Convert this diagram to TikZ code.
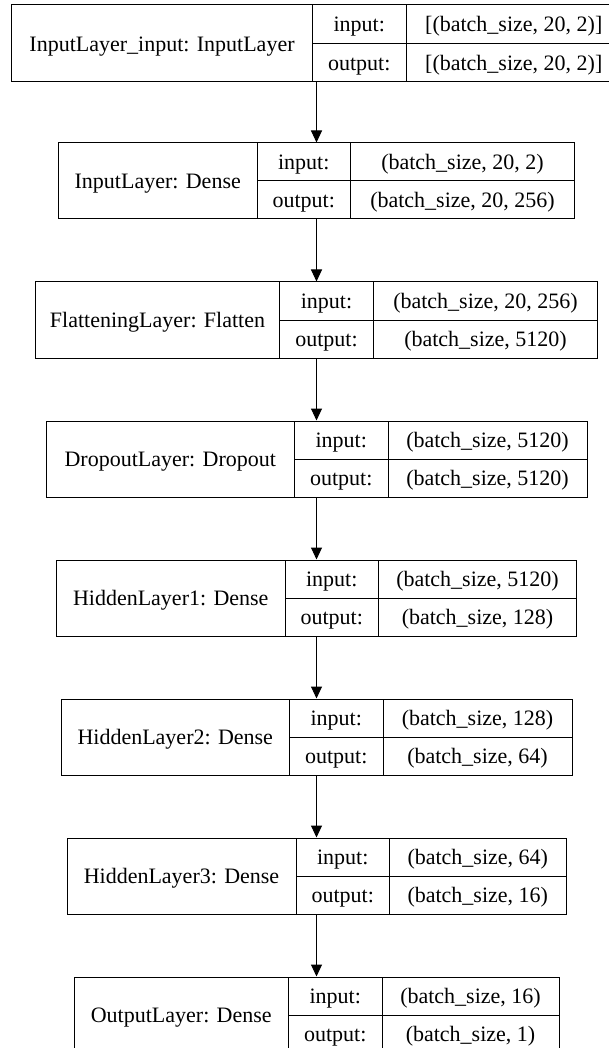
\documentclass[tikz,border=0pt]{standalone}
\usepackage{fontspec}
\setmainfont{Liberation Serif}
\usetikzlibrary{arrows.meta}

\begin{document}
\begin{tikzpicture}[x=1pt,y=-1pt,line width=1pt,
	layer/.style={draw,line width=1pt,inner sep=0pt},
	txt/.style={inner sep=0pt,text height=18.5pt,text depth=3pt,font=\fontsize{22}{26}\selectfont},
	arr/.style={-{Triangle[length=12pt,width=11pt]},line width=1pt}]
	\useasboundingbox (0,0) rectangle (609,1048);
	\clip (0,0) rectangle (609,1048);
	% InputLayer_input
	\node[layer,minimum width=610pt,minimum height=77pt] (inp) at (316.5,43.5) {};
	\draw (312.5,5) -- (312.5,82);
	\draw (406,5) -- (406,82);
	\draw (312.5,43.5) -- (621.5,43.5);
	\node[txt] (inp-name) at (162,43.5) {InputLayer\_input: InputLayer};
	\node[txt] (inp-in) at (359.25,24.25) {input:};
	\node[txt] (inp-out) at (359.25,62.75) {output:};
	\node[txt] (inp-inv) at (513.75,24.25) {[(batch\_size, 20, 2)]};
	\node[txt] (inp-outv) at (513.75,62.75) {[(batch\_size, 20, 2)]};
	% InputLayer
	\node[layer,minimum width=516pt,minimum height=76pt] (dense) at (316.5,181) {};
	\draw (257,143) -- (257,219);
	\draw (350.5,143) -- (350.5,219);
	\draw (257,181) -- (574.5,181);
	\node[txt] (dense-name) at (157.75,181) {InputLayer: Dense};
	\node[txt] (dense-in) at (303.75,162) {input:};
	\node[txt] (dense-out) at (303.75,200) {output:};
	\node[txt] (dense-inv) at (462.5,162) {(batch\_size, 20, 2)};
	\node[txt] (dense-outv) at (462.5,200) {(batch\_size, 20, 256)};
	% FlatteningLayer
	\node[layer,minimum width=562pt,minimum height=76pt] (flat) at (316.5,320) {};
	\draw (279.5,282) -- (279.5,358);
	\draw (373.5,282) -- (373.5,358);
	\draw (279.5,320) -- (597.5,320);
	\node[txt] (flat-name) at (157.5,320) {FlatteningLayer: Flatten};
	\node[txt] (flat-in) at (326.5,301) {input:};
	\node[txt] (flat-out) at (326.5,339) {output:};
	\node[txt] (flat-inv) at (485.5,301) {(batch\_size, 20, 256)};
	\node[txt] (flat-outv) at (485.5,339) {(batch\_size, 5120)};
	% DropoutLayer
	\node[layer,minimum width=541pt,minimum height=76pt] (drop) at (316.5,459) {};
	\draw (294.5,421) -- (294.5,497);
	\draw (388,421) -- (388,497);
	\draw (294.5,459) -- (587,459);
	\node[txt] (drop-name) at (170.25,459) {DropoutLayer: Dropout};
	\node[txt] (drop-in) at (341.25,440) {input:};
	\node[txt] (drop-out) at (341.25,478) {output:};
	\node[txt] (drop-inv) at (487.5,440) {(batch\_size, 5120)};
	\node[txt] (drop-outv) at (487.5,478) {(batch\_size, 5120)};
	% HiddenLayer1
	\node[layer,minimum width=520pt,minimum height=76pt] (hid1) at (316.5,598) {};
	\draw (285,560) -- (285,636);
	\draw (378.5,560) -- (378.5,636);
	\draw (285,598) -- (576.5,598);
	\node[txt] (hid1-name) at (170.75,598) {HiddenLayer1: Dense};
	\node[txt] (hid1-in) at (331.75,579) {input:};
	\node[txt] (hid1-out) at (331.75,617) {output:};
	\node[txt] (hid1-inv) at (477.5,579) {(batch\_size, 5120)};
	\node[txt] (hid1-outv) at (477.5,617) {(batch\_size, 128)};
	% HiddenLayer2
	\node[layer,minimum width=511pt,minimum height=76pt] (hid2) at (316.5,737) {};
	\draw (289.5,699) -- (289.5,775);
	\draw (383,699) -- (383,775);
	\draw (289.5,737) -- (572,737);
	\node[txt] (hid2-name) at (175.25,737) {HiddenLayer2: Dense};
	\node[txt] (hid2-in) at (336.25,718) {input:};
	\node[txt] (hid2-out) at (336.25,756) {output:};
	\node[txt] (hid2-inv) at (477.5,718) {(batch\_size, 128)};
	\node[txt] (hid2-outv) at (477.5,756) {(batch\_size, 64)};
	% HiddenLayer3
	\node[layer,minimum width=499pt,minimum height=76pt] (hid3) at (316.5,876) {};
	\draw (296,838) -- (296,914);
	\draw (389.5,838) -- (389.5,914);
	\draw (296,876) -- (566,876);
	\node[txt] (hid3-name) at (181.5,876) {HiddenLayer3: Dense};
	\node[txt] (hid3-in) at (342.75,857) {input:};
	\node[txt] (hid3-out) at (342.75,895) {output:};
	\node[txt] (hid3-inv) at (477.75,857) {(batch\_size, 64)};
	\node[txt] (hid3-outv) at (477.75,895) {(batch\_size, 16)};
	% OutputLayer
	\node[layer,minimum width=485pt,minimum height=76pt] (outl) at (316.5,1015) {};
	\draw (288.5,977) -- (288.5,1053);
	\draw (382,977) -- (382,1053);
	\draw (288.5,1015) -- (559,1015);
	\node[txt] (outl-name) at (181.25,1015) {OutputLayer: Dense};
	\node[txt] (outl-in) at (335.25,996) {input:};
	\node[txt] (outl-out) at (335.25,1034) {output:};
	\node[txt] (outl-inv) at (470.5,996) {(batch\_size, 16)};
	\node[txt] (outl-outv) at (470.5,1034) {(batch\_size, 1)};
	% arrows
	\draw[arr] (inp) -- (dense);
	\draw[arr] (dense) -- (flat);
	\draw[arr] (flat) -- (drop);
	\draw[arr] (drop) -- (hid1);
	\draw[arr] (hid1) -- (hid2);
	\draw[arr] (hid2) -- (hid3);
	\draw[arr] (hid3) -- (outl);
\end{tikzpicture}
\end{document}
